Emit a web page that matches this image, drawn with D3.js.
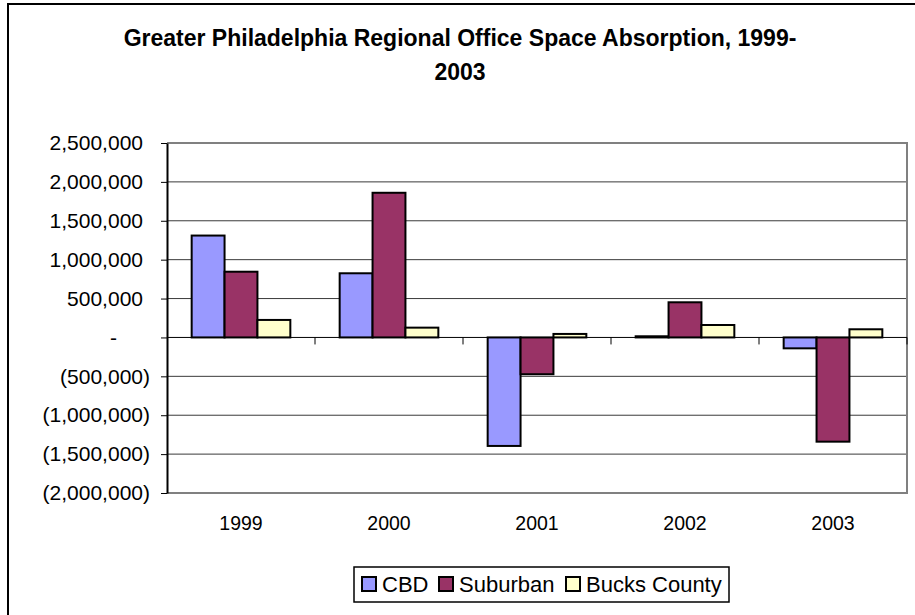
<!DOCTYPE html>
<html>
<head>
<meta charset="utf-8">
<script src="https://cdn.jsdelivr.net/npm/d3@7"></script>
<style>
  body { margin: 0; background: #fff; }
  text { font-family: "Liberation Sans", Arial, sans-serif; fill: #000; }
</style>
</head>
<body>
<div id="chart"></div>
<script>
const years = ["1999", "2000", "2001", "2002", "2003"];
const seriesNames = ["CBD", "Suburban", "Bucks County"];
const cbd = [1310000, 825000, -1395000, 15000, -140000];
const suburban = [845000, 1860000, -473000, 452000, -1340000];
const bucks = [225000, 126000, 45000, 160000, 105000];
const yTicks = [-2000000, -1500000, -1000000, -500000, 0, 500000, 1000000, 1500000, 2000000, 2500000];
const colors = ["#9999ff", "#993366", "#ffffcc"];

const W = 915, H = 615;
const plot = { left: 167, right: 907, top: 143, bottom: 493 };

const svg = d3.select("#chart").append("svg")
  .attr("width", W).attr("height", H);

// outer chart frame (runs off the picture on right/bottom)
svg.append("rect")
  .attr("x", 8).attr("y", 4).attr("width", 930).attr("height", 630)
  .attr("fill", "#fff").attr("stroke", "#000").attr("stroke-width", 2);

// title
const title = svg.append("text")
  .attr("text-anchor", "middle")
  .style("font-weight", "bold").style("font-size", "23px");
title.append("tspan").attr("x", 460).attr("y", 46)
  .text("Greater Philadelphia Regional Office Space Absorption, 1999-");
title.append("tspan").attr("x", 460).attr("y", 80).text("2003");

const x = d3.scaleBand().domain(years).range([plot.left, plot.right]);
const xs = d3.scaleBand().domain(seriesNames).range([0, x.bandwidth()])
  .paddingOuter(0.75).paddingInner(0);
const y = d3.scaleLinear().domain([-2000000, 2500000]).range([plot.bottom, plot.top]);

// gridlines
svg.append("g").selectAll("line")
  .data(yTicks.filter(d => d !== 0 && d !== 2500000))
  .join("line")
  .attr("x1", plot.left).attr("x2", plot.right)
  .attr("y1", d => y(d)).attr("y2", d => y(d))
  .attr("stroke", "#3a3a3a").attr("stroke-width", 1);

// plot area border (top, right, bottom)
svg.append("path")
  .attr("d", `M${plot.left},${plot.top}H${plot.right}V${plot.bottom}H${plot.left}`)
  .attr("fill", "none").attr("stroke", "#808080").attr("stroke-width", 2);

// bars
const data = [cbd, suburban, bucks];
const groups = svg.append("g").selectAll("g")
  .data(seriesNames)
  .join("g")
  .attr("fill", (d, i) => colors[i]);

groups.selectAll("rect")
  .data((s, i) => data[i].map((v, j) => ({ s, v, year: years[j] })))
  .join("rect")
  .attr("x", d => x(d.year) + xs(d.s))
  .attr("width", xs.bandwidth())
  .attr("y", d => y(Math.max(0, d.v)))
  .attr("height", d => Math.abs(y(d.v) - y(0)))
  .attr("stroke", "#000").attr("stroke-width", 2);

// x axis line at zero with ticks at category boundaries
svg.append("line")
  .attr("x1", plot.left).attr("x2", plot.right)
  .attr("y1", y(0)).attr("y2", y(0))
  .attr("stroke", "#000").attr("stroke-width", 1);
svg.append("g").selectAll("line")
  .data(years)
  .join("line")
  .attr("x1", d => x(d) + x.bandwidth()).attr("x2", d => x(d) + x.bandwidth())
  .attr("y1", y(0)).attr("y2", y(0) + 7)
  .attr("stroke", "#000").attr("stroke-width", 1);

// category labels
svg.append("g")
  .attr("transform", `translate(0,${plot.bottom})`)
  .call(d3.axisBottom(x).tickSize(0).tickPadding(0))
  .call(g => g.select(".domain").remove())
  .call(g => g.selectAll("text")
    .attr("y", 37).attr("dy", 0)
    .style("font-size", "19.5px").style("font-family", "Liberation Sans, Arial, sans-serif"));

// y axis
const fmt = d => d === 0 ? "-" : d < 0 ? "(" + d3.format(",")(-d) + ")" : d3.format(",")(d);
svg.append("g")
  .attr("transform", `translate(${plot.left},0)`)
  .call(d3.axisLeft(y).tickValues(yTicks).tickFormat(fmt).tickSize(6).tickSizeOuter(0))
  .call(g => g.select(".domain").attr("stroke", "#000").attr("stroke-width", 2))
  .call(g => g.selectAll(".tick line").attr("stroke", "#000"))
  .call(g => g.selectAll("text")
    .attr("x", d => d < 0 ? -17 : d > 0 ? -24 : -50)
    .style("font-size", "21px").style("font-family", "Liberation Sans, Arial, sans-serif")
    .attr("fill", "#000"));

// legend
const legend = svg.append("g");
legend.append("rect")
  .attr("x", 354).attr("y", 567).attr("width", 375).attr("height", 35)
  .attr("fill", "#fff").attr("stroke", "#000").attr("stroke-width", 1.5);
const legendX = [362, 439, 566];
seriesNames.forEach((s, i) => {
  legend.append("rect")
    .attr("x", legendX[i]).attr("y", 577).attr("width", 14).attr("height", 14)
    .attr("fill", colors[i]).attr("stroke", "#000").attr("stroke-width", 2);
  legend.append("text")
    .attr("x", legendX[i] + 20).attr("y", 592)
    .style("font-size", "22px")
    .text(s);
});
</script>
</body>
</html>
